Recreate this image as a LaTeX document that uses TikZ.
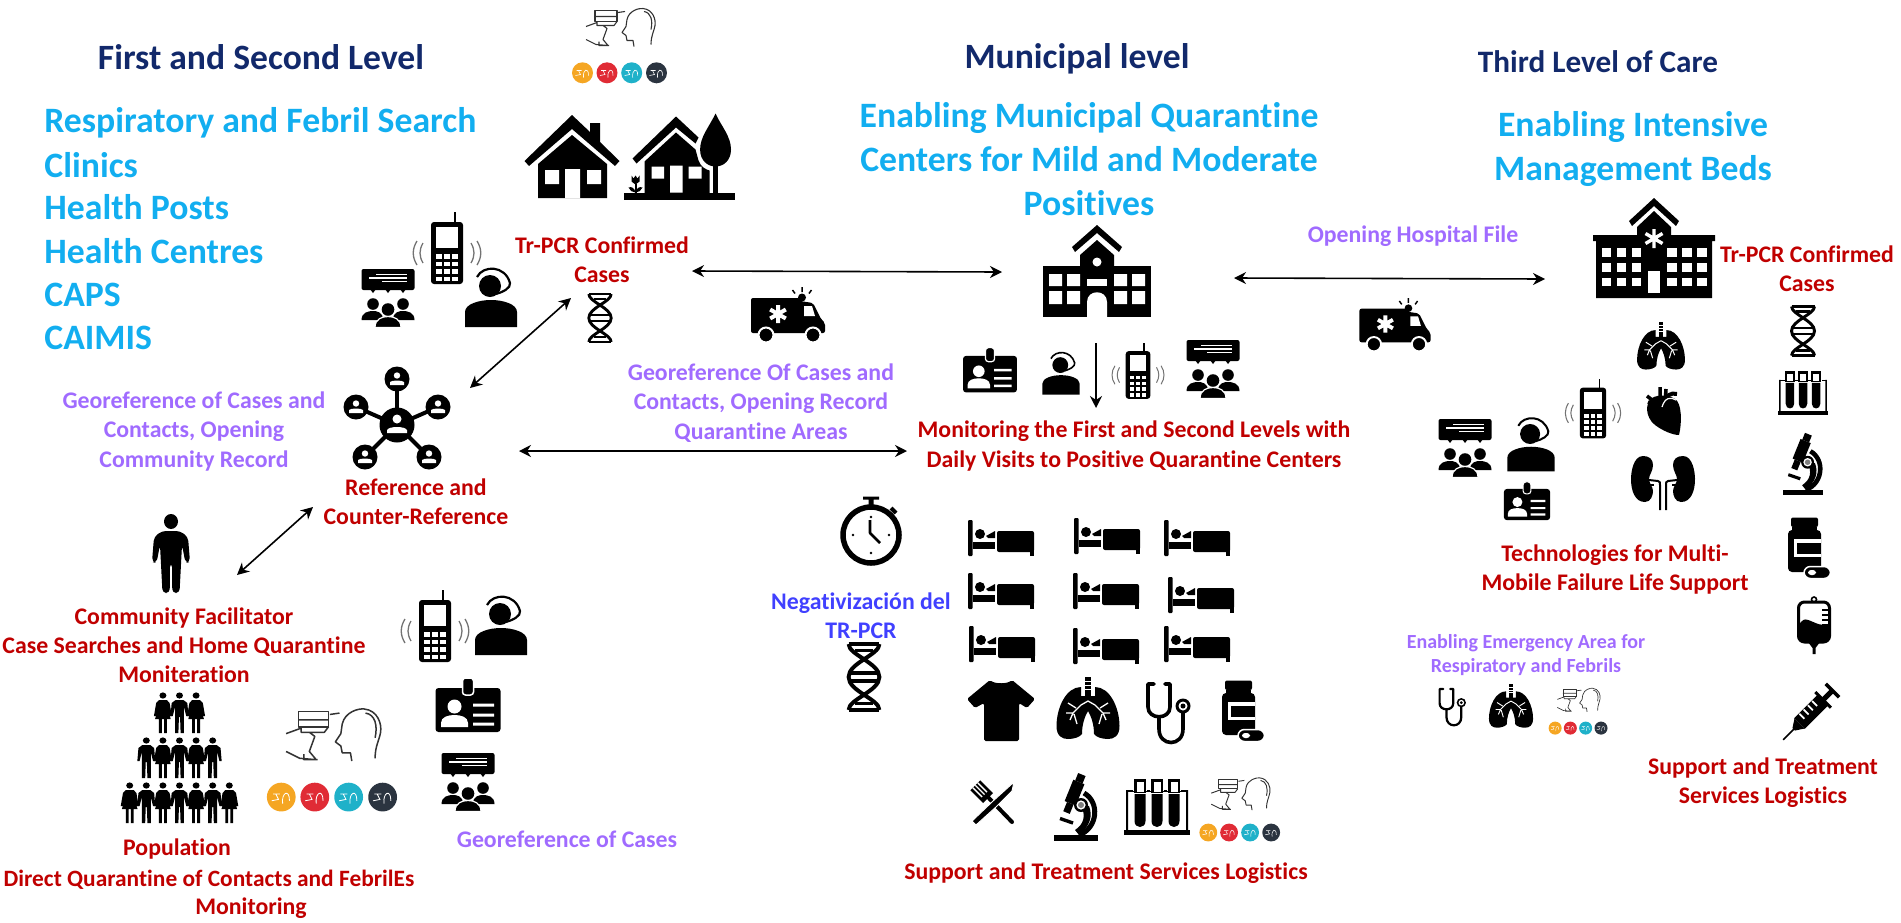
\documentclass[tikz,border=0pt]{standalone}
\usepackage{fontspec}
\setmainfont[Ligatures={NoCommon}]{Carlito}
\usetikzlibrary{arrows.meta,calc}
\definecolor{navy}{HTML}{12296B}
\definecolor{sky}{HTML}{12AEF0}
\definecolor{redtxt}{HTML}{C00000}
\definecolor{purp}{HTML}{A06BFF}
\definecolor{bluetxt}{HTML}{4040FF}
\definecolor{dotA}{HTML}{F5A623}
\definecolor{dotB}{HTML}{E02B35}
\definecolor{dotC}{HTML}{1FB1C9}
\definecolor{dotD}{HTML}{2B3440}
\def\iconscale{1}
\newcommand\icon[5]{\def\iconscale{#5}\node[iconspot] (#1) at (#2,#3) {};\pic[scale=#5] at (#1) {#4};}
\tikzset{
  x=0.5pt,y=-0.5pt,
  iconspot/.style={inner sep=0pt,minimum size=0pt,outer sep=0pt},
  sw/.style={line width=#1*\iconscale*0.5pt},
  headtxt/.style={font=\fontsize{17.8}{21}\selectfont\bfseries,text=navy,align=center,inner sep=0pt},
  bigtxt/.style={font=\fontsize{17.85}{22}\selectfont\bfseries,text=sky,align=center,inner sep=0pt},
  redlab/.style={font=\fontsize{11.9}{14.6}\selectfont\bfseries,text=redtxt,align=center,inner sep=0pt},
  purplab/.style={font=\fontsize{11.9}{14.6}\selectfont\bfseries,text=purp,align=center,inner sep=0pt},
  link/.style={line width=0.8pt,{Stealth[length=6pt,width=6pt]}-{Stealth[length=6pt,width=6pt]}},
  oneway/.style={line width=0.8pt,-{Stealth[length=6pt,width=6pt]}},
  pics/house1/.style={code={
    \fill (-47.5,4)--(0,-42)--(18,-25)--(18,-34)--(28,-34)--(28,-15)--(47.5,4)--(43,9)--(0,-28)--(-43,9)--cycle;
    \fill (-34,41)--(-34,7)--(0,-22)--(35,7)--(35,41)--cycle;
    \fill[white] (-27,13) rectangle (-13,27) (15,13) rectangle (29,27) (-7,12) rectangle (8,41);
  }},
  pics/house2/.style={code={
    \fill (-55.5,36) rectangle (55.5,43.5);
    \fill (-47,2)--(-3.5,-40)--(19,-19)--(16,-13)--(-3.5,-29)--(-43,7)--cycle;
    \fill (-35,37)--(-35,5)--(-3.5,-24)--(16,-7)--(19,4) .. controls (21,10) and (26,13) .. (30,14)--(30,37)--cycle;
    \fill[white] (-28,10) rectangle (-15.5,22) (9,10) rectangle (22,22) (-9.5,9) rectangle (3,36);
    \fill (36,-43) .. controls (30,-30) and (20.6,-20) .. (20.6,-7) .. controls (20.6,4) and (28,10) .. (36,10) .. controls (44,10) and (51.5,4) .. (51.5,-7) .. controls (51.5,-20) and (42,-30) .. (36,-43)--cycle;
    \fill (33.5,8) rectangle (38,37);
    \fill (-48,19)--(-46,22)--(-44,19)--(-42,22)--(-40,19)--(-40,25)--(-44,28)--(-48,25)--cycle;
    \fill (-45,27) rectangle (-43,36);
    \fill (-44,36) .. controls (-45,31) and (-48,30) .. (-51,31) .. controls (-50,34) and (-47,36) .. (-44,36);
    \fill (-44,36) .. controls (-43,31) and (-40,30) .. (-37,31) .. controls (-38,34) and (-41,36) .. (-44,36);
  }},
  pics/phone/.style={code={
    \fill[rounded corners=1.5pt] (-16,-31) rectangle (16,31);
    \fill (7,-41) rectangle (9,-30);
    \fill[white] (-11,-26) rectangle (11,-5);
    \foreach \yy in {1,8.5,16,23.5}{\foreach \xx in {-8,0,8}{
      \fill[white] (\xx-2.8,\yy) rectangle (\xx+2.8,\yy+4.6);}}
    \draw[black!55,sw=1.3] (-24,-10) .. controls (-28,-3) and (-28,3) .. (-24,10)
       (-30,-12) .. controls (-35,-4) and (-35,4) .. (-30,12)
       (24,-10) .. controls (28,-3) and (28,3) .. (24,10)
       (30,-12) .. controls (35,-4) and (35,4) .. (30,12);
  }},
  pics/agent/.style={code={
    \fill (-1,-11) circle[radius=11];
    \draw[sw=2.2] (-14,-20) .. controls (-8,-32) and (14,-32) .. (19,-14) .. controls (20,-9) and (12,-5) .. (5,-3);
    \fill (-26,30)--(-26,15) .. controls (-26,7) and (-12,3) .. (0,3) .. controls (12,3) and (26,7) .. (26,15)--(26,30)--cycle;
  }},
  pics/group/.style={code={
    \fill[rounded corners=1pt] (-26.5,-29) rectangle (26.5,-8);
    \fill (-18,-9)--(-12,-9)--(-15,-5)--cycle (-3,-9)--(3,-9)--(0,-5)--cycle (12,-9)--(18,-9)--(15,-5)--cycle;
    \draw[white,sw=1.1] (-12,-23.5)--(19,-23.5) (-19,-20)--(19,-20) (-6,-16.5)--(19,-16.5);
    \fill (-15,6) circle[radius=5.8] (15,6) circle[radius=5.8];
    \fill (-26.5,22) .. controls (-26.5,14) and (-19,13) .. (-15,13) .. controls (-11,13) and (-5,14) .. (-5,22)--cycle;
    \fill (26.5,22) .. controls (26.5,14) and (19,13) .. (15,13) .. controls (11,13) and (5,14) .. (5,22)--cycle;
    \fill (0,11.5) circle[radius=6.3];
    \filldraw[draw=white,sw=1.2] (-13,29.5) .. controls (-13,21) and (-6,18.5) .. (0,18.5) .. controls (6,18.5) and (13,21) .. (13,29.5)--cycle;
  }},
  pics/idcard/.style={code={
    \fill[rounded corners=1.5pt] (-32.5,-17) rectangle (32.5,27);
    \filldraw[draw=white,sw=1.5,rounded corners=1.5pt] (-5.5,-27) rectangle (5.5,-10);
    \fill[white] (-13.5,1.5) circle[radius=7];
    \fill[white] (-27,22)--(-27,18) .. controls (-27,12) and (-20,10) .. (-13.5,10) .. controls (-7,10) and (0,12) .. (0,18)--(0,22)--cycle;
    \fill[white] (5,-1.5) rectangle (26,1.5) (5,8.5) rectangle (26,11.5) (5,17.5) rectangle (26,20.5);
  }},
  pics/network/.style={code={
    \foreach \xx/\yy in {0/-46,-41/-18,41/-18,-32/32,32/32}{
      \draw[sw=4] (0,0)--(\xx,\yy);
      \fill (\xx,\yy) circle[radius=12.5];
      \fill[white] (\xx,\yy-3.5) circle[radius=3.2];
      \fill[white] (\xx-7,\yy+6)--(\xx-7,\yy+3) .. controls (\xx-5,\yy+1) and (\xx+5,\yy+1) .. (\xx+7,\yy+3)--(\xx+7,\yy+6)--cycle;
    }
    \fill (0,0) circle[radius=17.5];
    \fill[white] (0,-6) circle[radius=4.5];
    \fill[white] (-10,8)--(-10,5) .. controls (-8,1) and (8,1) .. (10,5)--(10,8)--cycle;
  }},
  pics/standing/.style={code={
    \fill (0,-32.5) ellipse[x radius=7,y radius=7.5];
    \fill[rounded corners=2pt] (-9,-23)--(9,-23)--(17,-17)--(19,8)--(14.5,9)--(11,-9)--(8.5,39)--(1.3,39)--(1,9)--(-1,9)--(-1.3,39)--(-8.5,39)--(-11,-9)--(-14.5,9)--(-19,8)--(-17,-17)--cycle;
  }},
  pics/manfig/.style={code={
    \begin{scope}[xscale=1.12]
    \fill (0,-17.5) circle[radius=3.1];
    \fill (-3.5,-13)--(3.5,-13)--(7,-10)--(8,3)--(6,3)--(4,-6)--(4,20)--(1,20)--(.5,4)--(-.5,4)--(-1,20)--(-4,20)--(-4,-6)--(-6,3)--(-8,3)--(-7,-10)--cycle;
    \end{scope}
  }},
  pics/womanfig/.style={code={
    \begin{scope}[xscale=1.12]
    \fill (0,-17.5) circle[radius=3.1];
    \fill (-3.5,-13)--(3.5,-13)--(6,-10)--(8,3)--(6,3)--(3.6,-6)--(7,6)--(3.5,6)--(3.5,20)--(1,20)--(1,6)--(-1,6)--(-1,20)--(-3.5,20)--(-3.5,6)--(-7,6)--(-3.6,-6)--(-6,3)--(-8,3)--(-6,-10)--cycle;
    \end{scope}
  }},
  pics/population/.style={code={
    \pic at (-16.6,-45) {womanfig}; \pic at (0,-45) {manfig}; \pic at (16.6,-45) {womanfig};
    \pic at (-33.2,0) {manfig}; \pic at (-16.6,0) {womanfig}; \pic at (0,0) {manfig}; \pic at (16.6,0) {womanfig}; \pic at (33.2,0) {manfig};
    \pic at (-49.8,45) {womanfig}; \pic at (-33.2,45) {manfig}; \pic at (-16.6,45) {womanfig}; \pic at (0,45) {manfig}; \pic at (16.6,45) {womanfig}; \pic at (33.2,45) {manfig}; \pic at (49.8,45) {womanfig};
  }},
  pics/scan/.style={code={
    \draw[black!80,sw=1.1,line join=round] (13,19)--(12,13)--(6,13)--(5,8)--(1,5)--(5,-1)--(6,-8) .. controls (8,-17) and (18,-19.5) .. (22,-19) .. controls (32,-18) and (35,-8) .. (34,-2) .. controls (33,4) and (30,8) .. (30,17);
    \draw[black!80,sw=1.1] (23,-16) .. controls (30,-15) and (32,-7) .. (30,2);
    \draw[black!80,sw=1.1,line join=round] (-26,-17) rectangle (-4,-6);
    \draw[black!80,sw=1.1,line join=round] (-26,-11)--(-4,-11) (-24,-6)--(-24,-2)--(-7,-2)--(-4,-6) (-3,-15)--(4,-16)
      (-35,-1)--(-24,-5) (-18,-2)--(-14,1)--(-18,12)--(-13,18)--(-25,17)--(-35,12) (-22,14)--(-22,18)--(-12,18);
    \foreach \xx/\cc in {-38.5/dotA,-14/dotB,10.7/dotC,35.5/dotD}{
      \fill[\cc] (\xx,45.3) circle[radius=10.5];
      \draw[white,sw=0.6] (\xx-6,43)--(\xx-1,43) (\xx-7,48)--(\xx-2,47)--(\xx-4,43) (\xx+1,50) .. controls (\xx+0,42) and (\xx+6,39) .. (\xx+6,48);
    }
  }},
  pics/ambulance/.style={code={
    \fill[rounded corners=1pt] (-37,-17)--(12,-17)--(12,-14)--(25,-12)--(33,4)--(37,8)--(37,18)--(-37,18)--cycle;
    \fill[white] (16,-9)--(24,-9)--(27,1)--(16,1)--cycle;
    \draw[white,sw=4] (-10,-10)--(-10,8) (-17.8,-5.5)--(-2.2,3.5) (-17.8,3.5)--(-2.2,-5.5);
    \fill (14,-17.5) circle[radius=4];
    \draw[sw=1.5] (14,-23)--(14,-28) (7,-21.5)--(4.5,-25) (21,-21.5)--(23.5,-25);
    \filldraw[draw=white,sw=2] (-22,20) circle[radius=7.5] (25,20) circle[radius=7.5];
  }},
  pics/school/.style={code={
    \fill (-25,-24)--(0,-46)--(25,-24)--(22,-19)--(0,-38)--(-22,-19)--cycle;
    \fill (-17,-4)--(-17,-16)--(0,-31)--(17,-16)--(17,-4)--cycle;
    \fill (-54,-5) rectangle (54,46);
    \fill[white] (0,-9) circle[radius=4.5];
    \fill[white] (-48,3) rectangle (-35,15) (-30,3) rectangle (-17,15) (17,3) rectangle (30,15) (35,3) rectangle (48,15);
    \fill[white] (-48,20) rectangle (-35,33) (-30,20) rectangle (-17,33) (17,20) rectangle (30,33) (35,20) rectangle (48,33);
    \fill[white] (-10,8) rectangle (10,15);
    \fill[white] (-10,46)--(-10,31) .. controls (-10,18) and (10,18) .. (10,31)--(10,46)--cycle;
  }},
  pics/hospital/.style={code={
    \fill (-25,-27)--(0,-50)--(25,-27)--(22,-22)--(0,-42)--(-22,-22)--cycle;
    \fill (-17,-7)--(-17,-21)--(0,-37)--(17,-21)--(17,-7)--cycle;
    \fill (-61,-13) rectangle (61,-7) (-58,-8) rectangle (58,50);
    \draw[white,sw=3.4] (0,-19)--(0,0) (-8.5,-14.5)--(8.5,-4.5) (-8.5,-4.5)--(8.5,-14.5);
    \foreach \xx in {-52.5,-37.5,-22.5,13,28,43}{\foreach \yy in {0,15,29.5}{
      \fill[white] (\xx,\yy) rectangle (\xx+9.5,\yy+8.5);}}
    \fill[white] (-6,23) rectangle (6,45);
  }},
  pics/bed/.style={code={
    \fill[rounded corners=0.5pt] (-33,-18) rectangle (-28.5,18);
    \fill (-21,-4) circle[radius=5];
    \fill (-15,-2)--(-6,-7)--(-6,0)--(-13,0)--cycle;
    \fill (-28.5,4) rectangle (-6,11);
    \fill[rounded corners=1pt] (-4,-7) rectangle (33,14);
    \fill (29,10) rectangle (33,18);
  }},
  pics/tshirt/.style={code={
    \fill[rounded corners=0.8pt] (-11,-30) .. controls (-6,-26) and (6,-26) .. (11,-30)--(34,-11)--(26,-2)--(18,-7)--(18,31)--(-17,31)--(-17,-7)--(-26,-2)--(-34,-11)--cycle;
  }},
  pics/lungs/.style={code={
    \fill (-3,-31) rectangle (3,-12);
    \foreach \yy in {-27,-23,-19}{\draw[white,sw=0.8] (-3,\yy)--(3,\yy);}
    \fill (-7,-21) .. controls (-22,-21) and (-31.5,0) .. (-31.5,18) .. controls (-31.5,28) and (-26,31) .. (-20,31) .. controls (-14,31) and (-8,29) .. (-6,26) .. controls (-6,16) and (-3,8) .. (0,3) .. controls (3,8) and (6,16) .. (6,26) .. controls (8,29) and (14,31) .. (20,31) .. controls (26,31) and (31.5,28) .. (31.5,18) .. controls (31.5,0) and (22,-21) .. (7,-21)--(7,-12)--(-7,-12)--cycle;
    \draw[white,sw=1.3,line join=round] (-18,12)--(-15,5)--(-7,-3)--(0,-7)--(7,-3)--(15,5)--(18,12)
      (-15,5)--(-22,5) (-12,0)--(-20,-5) (-14,6)--(-11,16)
      (15,5)--(22,5) (12,0)--(20,-5) (14,6)--(11,16);
  }},
  pics/stetho/.style={code={
    \draw[sw=3.6,line cap=round,line join=round] (-14,-29)--(-20,-29)--(-20,-6) .. controls (-20,7) and (2,7) .. (2,-6)--(2,-29)--(-3,-29);
    \draw[sw=3.6] (-9,3)--(-9,16) .. controls (-9,34) and (15,34) .. (15,16)--(15,-2);
    \fill (15,-7) circle[radius=7.5];
    \fill[white] (15,-7) circle[radius=4.5];
    \fill (15,-7) circle[radius=2.5];
  }},
  pics/pills/.style={code={
    \fill[rounded corners=1pt] (-18,-30.5) rectangle (9,-21);
    \fill[rounded corners=2pt] (-21,-18) rectangle (12,24);
    \fill (-17,-21) rectangle (8,-18);
    \fill[white] (-15,-9) rectangle (12,9);
    \fill (-12.5,-5.5) rectangle (12,5.5);
    \filldraw[draw=white,sw=1.5,rounded corners=3.2pt] (-5,18.5) rectangle (21.5,30.5);
    \fill[white,rounded corners=1.5pt] (-1,22) rectangle (7,27);
  }},
  pics/cutlery/.style={code={
    \draw[sw=4,line cap=round] (-8,-9)--(19,19);
    \begin{scope}[rotate=-45]
      \fill (-25,-7) rectangle (-7,7);
      \draw[white,sw=1.4] (-25,-3.5)--(-12,-3.5) (-25,0)--(-12,0) (-25,3.5)--(-12,3.5);
    \end{scope}
    \filldraw[draw=white,sw=1] (21,-21)--(19,-12)--(3,4)--(-17,22)--(-21,18)--(0,-2)--cycle;
  }},
  pics/microscope/.style={code={
    \fill (-22,27) rectangle (22,33);
    \begin{scope}[shift={(-2,-14)},rotate=68]
      \fill (-10,-6) rectangle (13,6);
      \fill (13,-4) rectangle (21,4);
      \fill (-20,-3.5) rectangle (-10,3.5);
    \end{scope}
    \draw[sw=5] (8,-15) .. controls (24,-6) and (22,20) .. (3,27);
    \fill (-1,22) .. controls (8,16) and (10,8) .. (5,-3) -- (13,-2) .. controls (17,8) and (14,18) .. (3,27)--cycle;
    \fill (5,-3) circle[radius=7];
    \fill[white] (5,-3) circle[radius=4.6];
    \fill[black!50] (5,-3) circle[radius=3];
    \draw[sw=3.4] (-16,10.5)--(-3,15);
  }},
  pics/tubes/.style={code={
    \fill (-33,23) rectangle (33,28);
    \fill (-31,-17) rectangle (-29,24) (29,-17) rectangle (31,24);
    \fill (-31,-17) rectangle (31,-15);
    \foreach \xx in {-17,0,17}{
      \fill[white] (\xx-7,-28) rectangle (\xx+7,-16);
      \fill (\xx-6,-28) rectangle (\xx+6,-14);
      \fill[white] (\xx-3.5,-25) rectangle (\xx+3.5,-15);
      \fill (\xx-5.5,-13)--(\xx+5.5,-13)--(\xx+5.5,14) .. controls (\xx+5.5,22) and (\xx-5.5,22) .. (\xx-5.5,14)--cycle;
    }
  }},
  pics/dna/.style={code={
    \draw[sw=3.2,line join=round] (-14,-30)--(14,-30) (-14,30)--(14,30) (-8,-24)--(8,-24) (-8,24)--(8,24)
       (-13,-3.5)--(13,-3.5) (-13,3.5)--(13,3.5);
    \draw[sw=3.6] (-14,-30) .. controls (-14,-20) and (14,-13) .. (14,0) .. controls (14,13) and (-14,20) .. (-14,30);
    \draw[sw=3.6] (14,-30) .. controls (14,-20) and (-14,-13) .. (-14,0) .. controls (-14,13) and (14,20) .. (14,30);
  }},
  pics/clock/.style={code={
    \draw[sw=5.5] (0,0) circle[radius=28];
    \fill (-8,-38.5) rectangle (8,-35.5) (-2.5,-36) rectangle (2.5,-29);
    \draw[sw=4] (20,-27)--(25,-22);
    \draw[sw=2.6,line join=round] (-1,-15)--(-1,-2)--(9,8);
    \fill (0,-18) circle[radius=1.4] (0,18) circle[radius=1.4] (-18,0) circle[radius=1.4] (18,0) circle[radius=1.4];
  }},
  pics/heart/.style={code={
    \fill (-11,-13) .. controls (-18,-8) and (-18,6) .. (-8,14) .. controls (0,20) and (10,24) .. (16,24) .. controls (19,12) and (19,-8) .. (12,-12) .. controls (6,-16) and (-4,-17) .. (-11,-13)--cycle;
    \draw[sw=3.5] (-16,-15)--(-7,-8) (-3,-24)--(-3,-9) (3,-22)--(2,-8) (-15,-9)--(-8,-6);
    \draw[sw=4] (1,-8) .. controls (2,-15) and (8,-19) .. (14,-17);
    \draw[white,sw=1.2] (-1,-4) .. controls (2,-14) and (8,-14) .. (13,-11);
  }},
  pics/kidneys/.style={code={
    \foreach \sx in {-1,1}{
      \begin{scope}[xscale=\sx]
        \fill (-20,-27) .. controls (-30,-27) and (-32,-10) .. (-32,-4) .. controls (-32,8) and (-28,19) .. (-18,19) .. controls (-12,19) and (-10,12) .. (-10,8) .. controls (-10,4) and (-14,0) .. (-14,-4) .. controls (-14,-8) and (-10,-12) .. (-10,-18) .. controls (-10,-24) and (-14,-27) .. (-20,-27)--cycle;
        \draw[sw=2] (-14,-3)--(-5,-2) .. controls (-3,-2) and (-3,0) .. (-3,2)--(-3,27);
        \draw[sw=2] (-14,2)--(-9,2);
      \end{scope}}
  }},
  pics/ivbag/.style={code={
    \draw[sw=3,rounded corners=3pt] (-15.5,-23) rectangle (15.5,17);
    \draw[sw=1.6] (0,-25.5) circle[radius=2.5];
    \fill[rounded corners=3pt] (-15.5,-3) .. controls (-6,-7) and (4,1) .. (15.5,-2)--(15.5,17)--(-15.5,17)--cycle;
    \fill (-6,17)--(6,17)--(1.5,23)--(1.5,29)--(-1.5,29)--(-1.5,23)--cycle;
    \draw[sw=1.6] (8,-15)--(15,-15) (8,-10)--(15,-10) (8,-5)--(15,-5) (8,0)--(15,0);
  }},
  pics/syringe/.style={code={
    \begin{scope}[rotate=45]
      \draw[sw=1.6] (-38,0)--(-18,0);
      \fill (-23,-1.8)--(-15,-7)--(-15,7)--(-23,1.8)--cycle;
      \fill (-15,-7.5) rectangle (19,7.5);
      \draw[white,sw=1.8] (-8,-7)--(-8,0) (-2,-7)--(-2,0) (4,-7)--(4,0) (10,-7)--(10,0);
      \fill (17,-11) rectangle (20,11);
      \fill (19,-2.5) rectangle (31,2.5);
      \fill (30,-9.5) rectangle (33.5,9.5);
    \end{scope}
  }}
}
\begin{document}
\begin{tikzpicture}
\useasboundingbox (0,0) rectangle (1901,922);
% headings
\node[headtxt] (h1) at (261,57) {First and Second Level};
\node[headtxt] (h2) at (1077,59) {Municipal level};
\node[headtxt,font=\fontsize{15.6}{21}\selectfont\bfseries] (h3) at (1598,62) {Third Level of Care};
\node[bigtxt,align=left,anchor=west] (l1) at (44,123) {Respiratory and Febril Search};
\node[bigtxt,anchor=west] (l2) at (44,165) {Clinics};
\node[bigtxt,anchor=west] (l3) at (44,207) {Health Posts};
\node[bigtxt,anchor=west] (l4) at (44,251) {Health Centres};
\node[bigtxt,anchor=west] (l5) at (44,295) {CAPS};
\node[bigtxt,anchor=west] (l6) at (44,338) {CAIMIS};
\node[bigtxt] (b2) at (1089,159) {Enabling Municipal Quarantine\\Centers for Mild and Moderate\\Positives};
\node[bigtxt] (b3) at (1633,149) {Enabling Intensive\\Management Beds};
% red labels
\node[redlab] (trpcr) at (602,260) {Tr-PCR Confirmed\\Cases};
\node[redlab] (trpcrr) at (1807,269) {Tr-PCR Confirmed\\Cases};
\node[redlab] (refer) at (416,502) {Reference and\\Counter-Reference};
\node[redlab] (monit) at (1134,446) {Monitoring the First and Second Levels with\\Daily Visits to Positive Quarantine Centers};
\node[redlab] (facil) at (184,645.5) {Community Facilitator\\Case Searches and Home Quarantine\\Moniteration};
\node[redlab,anchor=center] (popa) at (177,849) {Population};
\node[redlab,font=\fontsize{11.7}{14.6}\selectfont\bfseries] (popb) at (209,880) {Direct Quarantine of Contacts and FebrilEs};
\node[redlab] (popc) at (251,908) {Monitoring};
\node[redlab] (supp) at (1106,873) {Support and Treatment Services Logistics};
\node[redlab] (tech) at (1615,569.5) {Technologies for Multi-\\Mobile Failure Life Support};
\node[redlab] (supr) at (1763,783) {Support and Treatment\\Services Logistics};
% purple labels
\node[purplab] (geoa) at (761,403) {Georeference Of Cases and\\Contacts, Opening Record\\Quarantine Areas};
\node[purplab] (geob) at (194,431.5) {Georeference of Cases and\\Contacts, Opening\\Community Record};
\node[purplab] (geoc) at (567,839) {Georeference of Cases};
\node[purplab] (open) at (1413,236) {Opening Hospital File};
\node[purplab,font=\fontsize{10}{12}\selectfont\bfseries] (emer) at (1526,655) {Enabling Emergency Area for\\Respiratory and Febrils};
\node[redlab,text=bluetxt] (negat) at (861,615.5) {Negativización del\\TR-PCR};
% icons: first level
\icon{scantop}{621}{27.5}{scan}{1}
\icon{houseA}{572}{157}{house1}{1}
\icon{houseB}{679.5}{156.5}{house2}{1}
\icon{phoneA}{447}{253}{phone}{1}
\icon{agentA}{491}{297}{agent}{1}
\icon{groupA}{388}{298}{group}{1}
\icon{dnaA}{600}{318}{dna}{0.8}
\icon{ambA}{788}{315}{ambulance}{1}
\icon{net}{397}{425}{network}{1}
\icon{person}{171}{554}{standing}{1}
\icon{crowd}{179.5}{758}{population}{1}
\icon{scanB}{334}{735}{scan}{1.37}
\icon{phoneB}{435}{631}{phone}{1}
\icon{agentB}{501}{625}{agent}{1}
\icon{idA}{468}{705}{idcard}{1}
\icon{groupB}{468}{782}{group}{1}
% municipal
\icon{school}{1097}{271}{school}{1}
\icon{idB}{990}{370}{idcard}{0.83}
\icon{agentC}{1061}{373}{agent}{0.72}
\icon{phoneC}{1138}{375}{phone}{0.77}
\icon{groupC}{1213}{369}{group}{1}
\icon{clock}{871}{535}{clock}{1}
\icon{dnaB}{864}{677}{dna}{1.1}
\foreach \nm/\xx/\yy in {a/1001/538,b/1107/536,c/1197/538,d/1001/591,e/1106/591,f/1201/595,g/1002/644,h/1106/646,i/1197/644}{
  \node[iconspot] (bed\nm) at (\xx,\yy) {};
  \pic at (bed\nm) {bed};
}
\icon{shirt}{1001}{710}{tshirt}{1}
\icon{lungsA}{1088}{708}{lungs}{1}
\icon{stethA}{1168}{713}{stetho}{1}
\icon{pillsA}{1243}{711}{pills}{1}
\icon{fork}{993}{803}{cutlery}{1}
\icon{microA}{1076}{808}{microscope}{1}
\icon{tubesA}{1157}{807}{tubes}{1}
\icon{scanC}{1241}{794}{scan}{0.85}
% third level
\icon{ambB}{1395}{325}{ambulance}{0.96}
\icon{hospital}{1654}{248}{hospital}{1}
\icon{lungsB}{1661}{346}{lungs}{0.76}
\icon{heart}{1663}{411}{heart}{1}
\icon{kidney}{1663}{483}{kidneys}{1}
\icon{phoneD}{1593}{413}{phone}{0.82}
\icon{agentD}{1531}{444}{agent}{0.91}
\icon{groupD}{1465}{448}{group}{1}
\icon{idC}{1527}{501}{idcard}{0.71}
\icon{dnaC}{1803}{331}{dna}{0.82}
\icon{tubesB}{1803}{393}{tubes}{0.77}
\icon{microB}{1803}{465}{microscope}{0.92}
\icon{pillsB}{1809}{548}{pills}{1}
\icon{iv}{1814}{625}{ivbag}{1}
\icon{syr}{1810}{713}{syringe}{1}
\icon{stethB}{1452}{707}{stetho}{0.62}
\icon{lungsC}{1511}{706}{lungs}{0.70}
\icon{scanD}{1579}{700}{scan}{0.62}
% connectors
\draw[link] ($(trpcr)+(90,11)$) -- ($(school)+(-95,1)$);
\draw[link] ($(trpcr)+(-31,38)$) -- ($(net)+(73,-37)$);
\draw[link] ($(net)+(122,26)$) -- ($(monit)+(-227,5)$);
\draw[link] ($(refer)+(-103,5)$) -- ($(person)+(66,21)$);
\draw[link] ($(school)+(137,7)$) -- ($(hospital)+(-109,31)$);
\draw[oneway] ($(school)+(-1,72)$) -- ($(monit)+(-38,-38)$);
\end{tikzpicture}
\end{document}
